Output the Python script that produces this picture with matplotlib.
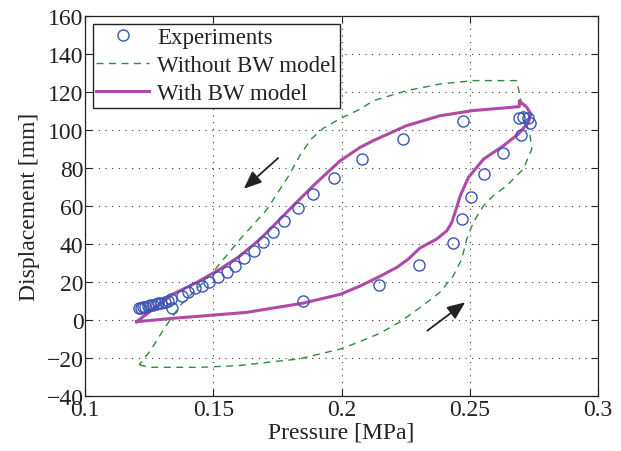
import matplotlib
matplotlib.use("Agg")
import matplotlib.pyplot as plt

# ---------------- data ----------------
exp_pressure = [0.1338, 0.1848, 0.2148, 0.2302, 0.2434, 0.2468, 0.2504, 0.2554, 0.2630,
                0.2701, 0.2736, 0.2729, 0.2707, 0.2693,
                0.2473, 0.2241, 0.2081, 0.1970, 0.1890, 0.1829, 0.1777, 0.1734, 0.1694,
                0.1657, 0.1620, 0.1585, 0.1553, 0.1517, 0.1485, 0.1455, 0.1429, 0.1403,
                0.1377, 0.1334, 0.1322, 0.1310, 0.1298, 0.1286, 0.1275, 0.1264, 0.1254,
                0.1244, 0.1235, 0.1226, 0.1218, 0.1210]
exp_disp = [6.2, 10.2, 18.5, 29.0, 40.7, 53.0, 65.0, 76.8, 88.0,
            97.2, 103.5, 106.2, 106.7, 106.2,
            104.5, 95.3, 85.0, 74.7, 66.2, 58.8, 51.9, 46.2, 40.9,
            36.5, 32.5, 28.6, 25.1, 22.5, 19.8, 18.1, 16.7, 14.6,
            12.5, 10.8, 10.2, 9.7, 9.2, 8.8, 8.4, 8.0, 7.7,
            7.4, 7.1, 6.8, 6.5, 6.2]

nobw_pressure = [0.1211, 0.1250, 0.1450, 0.1600, 0.1730, 0.1835, 0.1995, 0.2060, 0.2150,
                 0.2228, 0.2306, 0.2384, 0.2436, 0.2469, 0.2488, 0.2514, 0.2554, 0.2592,
                 0.2644, 0.2709, 0.2742, 0.2735, 0.2709, 0.2690, 0.2683,
                 0.2514, 0.2384, 0.2254, 0.2124, 0.2073, 0.1995, 0.1930, 0.1880, 0.1840,
                 0.1790, 0.1708, 0.1605, 0.1487, 0.1370, 0.1308, 0.1254, 0.1211]
nobw_disp = [-23.5, -24.9, -24.9, -24.0, -22.0, -20.5, -15.3, -12.0, -7.0,
             -1.0, 6.5, 14.6, 23.3, 32.1, 42.6, 51.4, 60.2, 65.4,
             70.7, 79.5, 90.0, 97.0, 109.3, 121.6, 126.0,
             126.0, 124.2, 120.7, 115.4, 111.0, 106.0, 101.0, 95.0, 87.0,
             75.0, 58.0, 42.6, 23.3, 7.5, -4.7, -16.3, -23.5]

bw_pressure = [0.1201, 0.1344, 0.1630, 0.1851, 0.1995, 0.2073, 0.2150, 0.2216, 0.2261,
               0.2306, 0.2371, 0.2411, 0.2430, 0.2443, 0.2463, 0.2495, 0.2554, 0.2631,
               0.2690, 0.2729, 0.2738, 0.2722, 0.2693, 0.2693,
               0.2511, 0.2384, 0.2254, 0.2124, 0.2073, 0.1995, 0.1890, 0.1812, 0.1748,
               0.1683, 0.1605, 0.1527, 0.1436, 0.1344, 0.1201]
bw_disp = [-0.9, 0.9, 4.0, 8.9, 13.5, 17.9, 23.0, 27.7, 32.1,
           37.9, 42.6, 47.0, 51.4, 56.7, 65.4, 75.1, 84.7, 91.7,
           97.9, 104.1, 108.4, 112.0, 115.4, 112.3,
           110.2, 107.5, 102.3, 94.4, 90.9, 83.8, 70.7, 60.2, 51.4,
           42.6, 33.8, 26.8, 19.8, 13.7, -0.9]

x_ticks = [0.1, 0.15, 0.2, 0.25, 0.3]
x_tick_labels = ["0.1", "0.15", "0.2", "0.25", "0.3"]
y_ticks = [-40, -20, 0, 20, 40, 60, 80, 100, 120, 140, 160]
y_tick_labels = ["\u221240", "\u221220", "0", "20", "40", "60", "80", "100", "120", "140", "160"]

# ---------------- plot ----------------
plt.rcParams['font.family'] = ['Liberation Serif', 'DejaVu Serif']
plt.rcParams['mathtext.fontset'] = 'stix'

FS = 17
fig = plt.figure(figsize=(6.21, 4.52), dpi=100)
ax = fig.add_axes([85/621, 1-397/452, 513/621, 380/452])

ax.plot(exp_pressure, exp_disp, linestyle='none', marker='o', markersize=8,
        markerfacecolor='none', markeredgecolor='#3a55b4', markeredgewidth=1.0,
        label='Experiments', zorder=4)
ax.plot(nobw_pressure, nobw_disp, linestyle=(0, (5, 4)), color='#2e8b3e', linewidth=1.0,
        label='Without BW model', zorder=3)
ax.plot(bw_pressure, bw_disp, linestyle='-', color='#b04aa6', linewidth=2.2,
        label='With BW model', zorder=3)

ax.annotate('', xy=(0.1611, 68.1), xytext=(0.1761, 86.2),
            arrowprops=dict(arrowstyle='-|>,head_length=0.6,head_width=0.25',
                            color='#222222', lw=1.3, mutation_scale=18))
ax.annotate('', xy=(0.2491, 10.2), xytext=(0.2326, -6.5),
            arrowprops=dict(arrowstyle='-|>,head_length=0.6,head_width=0.25',
                            color='#222222', lw=1.3, mutation_scale=18))

ax.set_xlim(0.1, 0.3)
ax.set_ylim(-40, 160)
ax.set_xticks(x_ticks)
ax.set_xticklabels(x_tick_labels)
ax.set_yticks(y_ticks)
ax.set_yticklabels(y_tick_labels)
ax.tick_params(direction='in', top=True, right=True, length=5, width=0.8,
               labelsize=FS, colors='#222222', pad=1)
ax.tick_params(axis='x', pad=2)
for s in ax.spines.values():
    s.set_linewidth(0.9)
    s.set_color('#222222')
ax.grid(True, linestyle=(0, (1, 5)), color='#333333', linewidth=0.8)
ax.set_axisbelow(True)

ax.set_xlabel('Pressure [MPa]', fontsize=FS, color='#222222', labelpad=1)
ax.set_ylabel('Displacement [mm]', fontsize=FS, color='#222222', labelpad=5)

leg = ax.legend(loc='upper left', fontsize=16.5, frameon=True, fancybox=False,
                framealpha=1, edgecolor='#222222', borderpad=0.15, labelspacing=0.3,
                handlelength=2.3, handletextpad=0.35, borderaxespad=0.35)
leg.get_frame().set_linewidth(1.0)
for t in leg.get_texts():
    t.set_color('#222222')

fig.savefig('out.png', dpi=100)
